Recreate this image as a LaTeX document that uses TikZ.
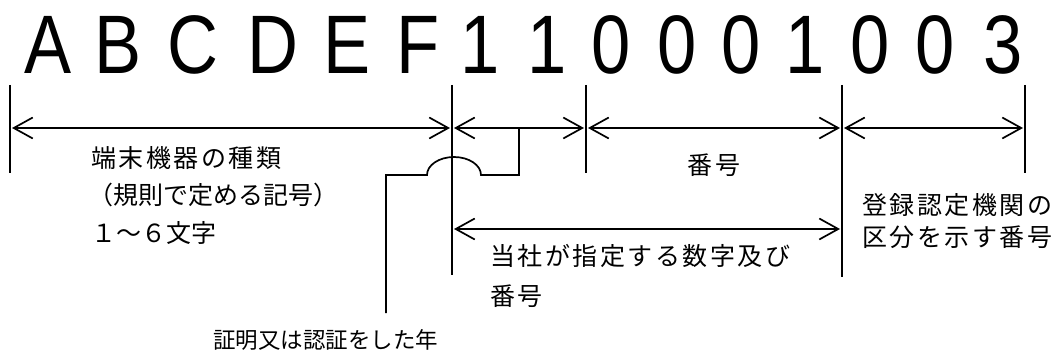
\documentclass[tikz,border=0pt]{standalone}
\usepackage{fontspec}
\setmainfont{Liberation Sans}
\newfontfamily\jpfont{Noto Sans CJK JP}
\newfontfamily\jpwide[LetterSpace=10]{Noto Sans CJK JP}
\usetikzlibrary{arrows.meta,calc}

\tikzset{
  big/.style={font=\fontsize{83}{83}\selectfont, anchor=base, inner sep=0pt, xscale=0.85},
  jp/.style={font=\jpfont\fontsize{25}{25}\selectfont, anchor=west, inner sep=0pt},
  jpw/.style={jp, font=\jpwide\fontsize{25}{25}\selectfont},
  tick/.style={line width=1.7pt},
  dim/.style={line width=1.7pt, {Straight Barb[length=19pt,width=21pt]}-{Straight Barb[length=19pt,width=21pt]}, shorten <=2pt, shorten >=2pt}
}

\begin{document}
\begin{tikzpicture}[x=1pt,y=1pt]
\useasboundingbox (0,0) rectangle (1062,354);
% code letters
\foreach \c/\x [count=\i] in {A/48,B/118,C/193,D/273,E/347,F/418,1/480,1/547,0/611,0/677,0/741,1/805,0/870,0/935,3/1003}
  \node[big] (ch\i) at (\x,280) {\c};

% ticks and dimension arrows
\foreach \n/\x/\lo in {0/10/181,1/452/79,2/586/181,3/842/77,4/1025/181} {
  \draw[tick] (\x,269) -- (\x,\lo);
  \coordinate (a\n) at (\x,226);
}
\foreach \a/\b in {0/1,1/2,2/3,3/4}
  \draw[dim] (a\a) -- (a\b);
\coordinate (m1) at (452,125);
\coordinate (m3) at (842,125);
\draw[dim] (m1) -- (m3);

% year bracket, jumping over the tick
\coordinate (yr) at (519,226);
\draw[tick] (yr) -- ++(0,-47) -- ++(-38,0)
  arc[start angle=0,end angle=180,x radius=27,y radius=18]
  -- ++(-41,0) coordinate (yb) -- ++(0,-138);

\node[jpw] (kind) at (91,196) {端末機器の種類};
\node[jp] (rule) at (88,159) {（規則で定める記号）};
\node[jp] (len) at (91,121) {１～６文字};
\node[jpw,anchor=center] (serial) at (714,189) {番号};
\node[jpw] (own) at (490,98) {当社が指定する数字及び};
\node[jpw] (own2) at (490,58) {番号};
\node[jpw] (body) at (862,149) {登録認定機関の};
\node[jpw] (body2) at (862,117) {区分を示す番号};
\node[jp,font=\jpfont\fontsize{22.5}{22.5}\selectfont] (year) at (213,14) {証明又は認証をした年};
\end{tikzpicture}
\end{document}
